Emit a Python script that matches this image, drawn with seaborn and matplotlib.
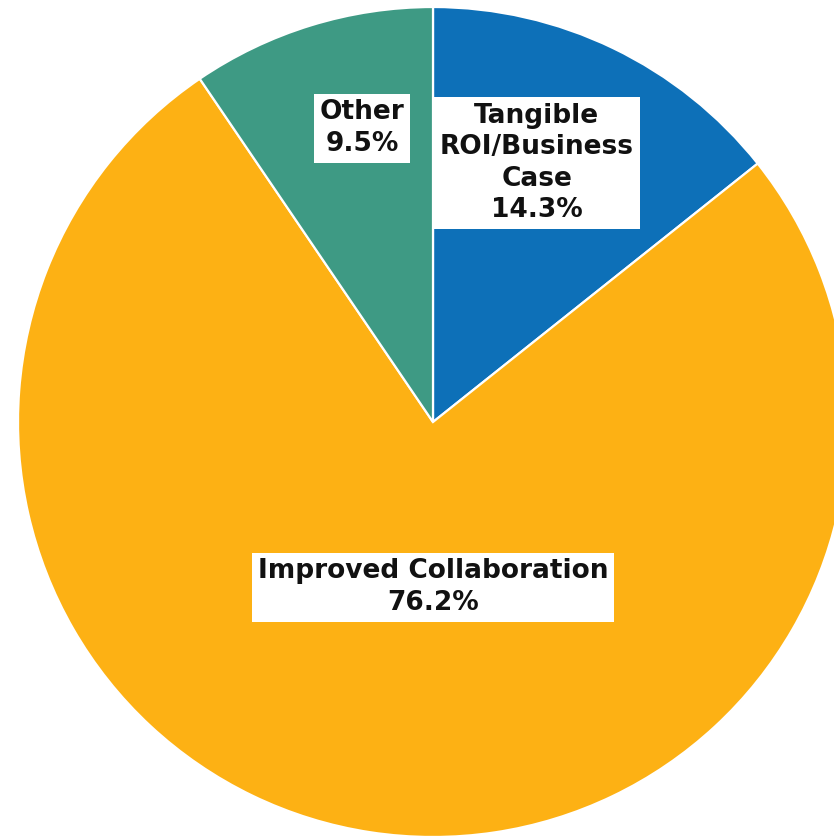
import matplotlib
matplotlib.use("Agg")
import matplotlib.pyplot as plt
import seaborn as sns

sns.set_theme(style="white")
plt.rcParams["font.family"] = ["DejaVu Sans"]

categories = ["Tangible\nROI/Business\nCase", "Improved Collaboration", "Other"]
shares = [14.3, 76.2, 9.5]
colors = ["#0D70B8", "#FDB114", "#3E9A84"]
# label anchor points (data units, pie radius = 1)
label_pos = [(0.25, 0.624), (0.0, -0.398), (-0.171, 0.708)]

fig = plt.figure(figsize=(8.34, 8.36), dpi=100)
ax = fig.add_axes([0, 0, 1, 1])

ax.pie(shares, colors=colors, startangle=90, counterclock=False,
       radius=1.0, center=(0, 0),
       wedgeprops=dict(edgecolor="white", linewidth=1.6))

for name, val, (x, y) in zip(categories, shares, label_pos):
    ax.text(x, y, f"{name}\n{val:.1f}%", ha="center", va="center",
            fontsize=19, fontweight="bold", color="#111111", linespacing=1.28,
            bbox=dict(boxstyle="square,pad=0.22", facecolor="white", edgecolor="none"))

ax.set_xlim(-1.0434, 0.9663)
ax.set_ylim(-0.9976, 1.0169)
ax.set_aspect("auto")
ax.axis("off")

fig.savefig("out.png", dpi=100, facecolor="white")
